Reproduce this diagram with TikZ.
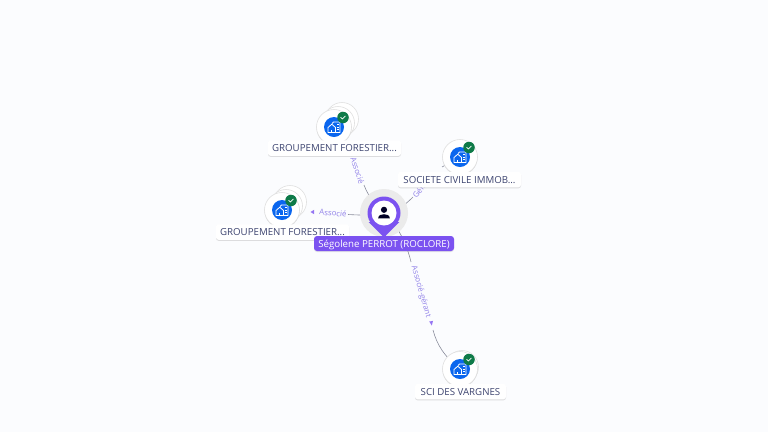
\documentclass[tikz,border=0pt]{standalone}
\usepackage{fontspec}
\setmainfont{Open Sans}
\usetikzlibrary{shadows,calc}
\definecolor{bgc}{HTML}{FBFCFE}
\definecolor{purp}{HTML}{7B52F0}
\definecolor{lavtxt}{HTML}{8F7FE8}
\definecolor{labtxt}{HTML}{3D4470}
\definecolor{bluec}{HTML}{0A66EE}
\definecolor{greenc}{HTML}{0E7A48}
\definecolor{edgec}{HTML}{8A8D9C}
\tikzset{
  edgeline/.style={draw=edgec,line width=.6pt},
  edgelab/.style={font=\fontsize{7.8}{9}\selectfont,text=lavtxt,inner sep=.5pt},
  arrowtip/.style={fill=purp!80!white},
  backdisc/.style={circle,fill=white,draw=black!12,line width=.6pt,minimum size=33pt,inner sep=0pt},
  maindisc/.style={circle,fill=white,draw=black!12,line width=.6pt,minimum size=35pt,inner sep=0pt,drop shadow={opacity=.3,shadow xshift=0pt,shadow yshift=-.8pt}},
  bluedisc/.style={circle,fill=bluec,minimum size=20pt,inner sep=0pt},
  checkdisc/.style={circle,fill=greenc,minimum size=11.5pt,inner sep=0pt},
  namebox/.style={fill=white,rounded corners=2.5pt,inner sep=0pt,minimum height=15.5pt,text height=7pt,text depth=0pt,text=labtxt,font=\fontsize{9.7}{11}\selectfont,drop shadow={opacity=.25,shadow xshift=0pt,shadow yshift=-1pt}},
  mainbox/.style={fill=purp,rounded corners=3pt,inner sep=0pt,minimum height=15pt,text height=7pt,text depth=0pt,text=white,font=\fontsize{9.7}{11}\selectfont,drop shadow={opacity=.2,shadow xshift=0pt,shadow yshift=-1pt}},
}
% icon: house and building, plus check mark
\newcommand{\entityicon}[3]{%
  \node[bluedisc] (#3b) at (#1,#2) {};
  \begin{scope}[shift={(#1,#2)},white,line width=.8pt,line join=round]
    \draw (-6,5.5) -- (-6,.5) -- (-2.2,-2.8) -- (1.5,.5) -- (1.5,5.5) -- cycle;
    \draw (-2.2,5.5) -- (-2.2,2.6);
    \draw (-2,-3.4) -- (-.5,-5) -- (6,-5) -- (6,5.5) -- (1.5,5.5);
    \draw[line width=.9pt] (3.2,-2.4) -- (4.6,-2.4) (3.2,0) -- (4.6,0) (3.2,2.4) -- (4.6,2.4);
  \end{scope}
  \node[checkdisc] (#3c) at (#1+9,#2-9.5) {};
  \draw[white,line width=.7pt,line cap=round,line join=round] (#1+6.7,#2-9.6) -- (#1+8.4,#2-8) -- (#1+11.3,#2-11);
}
\begin{document}
\begin{tikzpicture}[x=1pt,y=-1pt]
\useasboundingbox (0,0) rectangle (768,432);
\fill[bgc] (0,0) rectangle (768,432);

% anchors
\coordinate (ctr) at (384,213);
\coordinate (ga) at (334,127);
\coordinate (gb) at (282,210);
\coordinate (soc) at (460,157);
\coordinate (sci) at (460,369);

% connectors
\draw[edgeline] (ctr) .. controls (376,206) and (368,196) .. (364,185);
\draw[edgeline] (352,156) .. controls (350,150) and (346,140) .. (ga);
\node[edgelab,rotate=-71] (la) at (357.5,170.5) {Associé};

\draw[edgeline] (ctr) .. controls (395,213) and (405,205) .. (413,197);
\draw[edgeline] (442,167) -- (soc);
\node[edgelab,rotate=52] (ls) at (422,187) {Gérant};

\draw[edgeline] (ctr) .. controls (372,216) and (358,215) .. (348,214.5);
\draw[edgeline] (303,212) -- (gb);
\node[edgelab,rotate=-6] (lb) at (333,213) {Associé};
\coordinate (tb) at (313,212);
\fill[arrowtip] (tb) ++(-2.5,0) -- ++(3.6,-2.2) -- ++(0,4.4) -- cycle;

\draw[edgeline] (ctr) .. controls (398,225) and (407,245) .. (411,262);
\draw[edgeline] (433,330) .. controls (437,345) and (444,356) .. (sci);
\node[edgelab,rotate=-74] (lc) at (421,292) {Associé-gérant};
\coordinate (tc) at (431,323);
\fill[arrowtip] (tc) ++(.8,2.5) -- ++(-2.6,-4) -- ++(3.8,-.6) -- cycle;

% entities
\node[backdisc] (gaback2) at (342,119) {};
\node[backdisc] (gaback1) at (338,123) {};
\node[maindisc] (gam) at (ga) {};
\entityicon{334}{127}{gai}
\node[namebox,minimum width=133pt] (gal) at (334.5,148) {GROUPEMENT FORESTIER...};

\node[backdisc] (gbback2) at (290,202) {};
\node[backdisc] (gbback1) at (286,206) {};
\node[maindisc] (gbm) at (gb) {};
\entityicon{282}{210}{gbi}
\node[namebox,minimum width=133pt] (gbl) at (282.5,232) {GROUPEMENT FORESTIER...};

\node[maindisc] (socm) at (soc) {};
\entityicon{460}{157}{soci}
\node[namebox,minimum width=123pt] (socl) at (459.5,179.5) {SOCIETE CIVILE IMMOB...};

\node[backdisc] (sciback) at (462,367) {};
\node[maindisc] (scim) at (sci) {};
\entityicon{460}{369}{scii}
\node[namebox,minimum width=91pt] (scil) at (460.5,391.5) {SCI DES VARGNES};

% central person
\node[circle,fill=black!8,minimum size=48pt,inner sep=0pt] (halo) at (ctr) {};
\fill[purp] (368.6,222) -- (384,237.5) -- (399.4,222) -- cycle;
\node[circle,fill=purp,minimum size=33pt,inner sep=0pt] (ring) at (ctr) {};
\node[circle,fill=white,minimum size=25pt,inner sep=0pt] (face) at (ctr) {};
\fill[black!85!blue] (384,209.8) circle (3.1pt);
\fill[black!85!blue] (378.2,218.4) .. controls (378.2,215.2) and (381,214.2) .. (384,214.2) .. controls (387,214.2) and (389.8,215.2) .. (389.8,218.4) -- cycle;
\node[mainbox,minimum width=140pt] (ctrl) at (384,243.5) {Ségolene PERROT (ROCLORE)};
\end{tikzpicture}
\end{document}
